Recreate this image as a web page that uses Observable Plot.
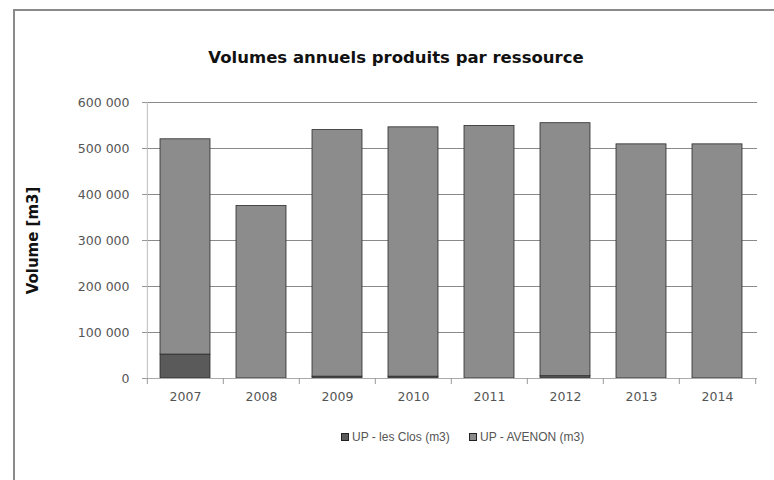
<!DOCTYPE html>
<html>
<head>
<meta charset="utf-8">
<script src="https://cdn.jsdelivr.net/npm/d3@7"></script>
<script src="https://cdn.jsdelivr.net/npm/@observablehq/plot@0.6"></script>
<style>
  html, body { margin: 0; padding: 0; background: #fff; }
  #frame { position: absolute; left: 13px; top: 9px; width: 800px; height: 520px; border: 2px solid #8a8a8a; box-sizing: border-box; }
  #title { position: absolute; left: 0; width: 792px; top: 48px; text-align: center; font-family: "DejaVu Sans", sans-serif; font-weight: bold; font-size: 16.5px; color: #111; }
  #chart { position: absolute; left: 0; top: 90px; }
  #legend { position: absolute; top: 430px; left: 0; width: 774px; font-family: "Liberation Sans", sans-serif; font-size: 12px; color: #555; }
  .item { position: absolute; display: flex; align-items: center; }
  .sw { width: 8px; height: 8px; border: 1px solid #222; margin-right: 3px; box-sizing: border-box; }
</style>
</head>
<body>
<div id="frame"></div>
<div id="title">Volumes annuels produits par ressource</div>
<div id="chart"></div>
<div id="legend"></div>
<script>
const years = ["2007", "2008", "2009", "2010", "2011", "2012", "2013", "2014"];
const lesClos = [52000, 0, 4000, 4000, 0, 5000, 0, 0];
const avenonTotal = [520000, 375000, 540000, 546000, 549000, 555000, 509000, 509000];
const seriesNames = ["UP - les Clos (m3)", "UP - AVENON (m3)"];
const seriesColors = ["#5a5a5a", "#8c8c8c"];
const yTicks = [0, 100000, 200000, 300000, 400000, 500000, 600000];

const rows = [];
years.forEach((y, i) => {
  rows.push({year: y, series: seriesNames[0], value: lesClos[i]});
  rows.push({year: y, series: seriesNames[1], value: avenonTotal[i] - lesClos[i]});
});

const fmt = v => v === 0 ? "0" : d3.format(",")(v).replace(/,/g, " ");
const step = (774 - 146 - 17) / years.length;

const plot = Plot.plot({
  width: 774,
  height: 320,
  marginLeft: 146,
  marginRight: 17,
  marginTop: 12,
  marginBottom: 32,
  style: {fontFamily: "'DejaVu Sans', sans-serif", fontSize: "12.5px", color: "#555", background: "transparent"},
  x: {domain: years, paddingInner: 0.34, paddingOuter: 0.17, label: null},
  y: {domain: [0, 600000], label: null},
  color: {domain: seriesNames, range: seriesColors},
  marks: [
    Plot.gridY(yTicks, {stroke: "#8a8a8a", strokeOpacity: 1, strokeWidth: 1}),
    Plot.axisY(yTicks, {tickFormat: fmt, tickSize: 4, tickPadding: 13, stroke: "#999", fill: "#555", label: null}),
    Plot.ruleX([years[0]], {dx: -step / 2, stroke: "#bbb"}),
    Plot.barY(rows, {x: "year", y: "value", fill: "series", order: seriesNames, stroke: "#2a2a2a", strokeWidth: 0.8}),
    Plot.ruleY([0], {stroke: "#aaa"}),
    Plot.axisX({tickSize: 0, tickPadding: 14, fill: "#555", label: null}),
    Plot.axisX({tickSize: 6, tickFormat: null, dx: -step / 2, stroke: "#999", label: null}),
    Plot.axisX(["2014"], {tickSize: 6, tickFormat: null, dx: step / 2, stroke: "#999", label: null}),
    Plot.text(["Volume [m3]"], {frameAnchor: "left", textAnchor: "middle", dx: -113, rotate: -90, fontWeight: "bold", fontSize: 15, fill: "#111", fontFamily: "DejaVu Sans, sans-serif"})
  ]
});
document.getElementById("chart").appendChild(plot);

const legend = document.getElementById("legend");
const legendX = [341, 469];
seriesNames.forEach((name, i) => {
  const it = document.createElement("div");
  it.className = "item";
  it.style.left = legendX[i] + "px";
  const sw = document.createElement("div");
  sw.className = "sw";
  sw.style.background = seriesColors[i];
  const t = document.createElement("span");
  t.textContent = name;
  it.appendChild(sw);
  it.appendChild(t);
  legend.appendChild(it);
});
</script>
</body>
</html>
